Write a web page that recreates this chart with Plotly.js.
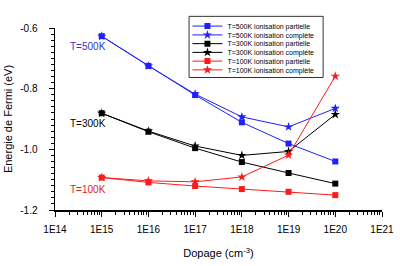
<!DOCTYPE html>
<html><head><meta charset="utf-8">
<script src="https://cdn.plot.ly/plotly-3.0.1.min.js"></script>
<style>html,body{margin:0;padding:0;background:#fff;}#chart{width:400px;height:266px;}</style>
</head><body><div id="chart"></div>
<script>
const dopage = [1e15, 1e16, 1e17, 1e18, 1e19, 1e20];
const t500Partielle = [-0.627, -0.725, -0.821, -0.911, -0.981, -1.040];
const t500Complete  = [-0.627, -0.725, -0.818, -0.893, -0.926, -0.865];
const t300Partielle = [-0.881, -0.942, -0.996, -1.042, -1.078, -1.113];
const t300Complete  = [-0.881, -0.940, -0.989, -1.020, -1.007, -0.885];
const t100Partielle = [-1.093, -1.109, -1.121, -1.131, -1.140, -1.151];
const t100Complete  = [-1.093, -1.104, -1.107, -1.091, -1.019, -0.759];
const seriesNames = [
  'T=500K ionisation partielle','T=500K ionisation complète',
  'T=300K ionisation partielle','T=300K ionisation complète',
  'T=100K ionisation partielle','T=100K ionisation complète'];
const xTickVals = [1e14,1e15,1e16,1e17,1e18,1e19,1e20,1e21];
const xTickText = ['1E14','1E15','1E16','1E17','1E18','1E19','1E20','1E21'];
const yTickVals = [-1.2,-1.0,-0.8,-0.6];
const yTickText = ['-1.2','-1.0','-0.8','-0.6'];

// minor tick positions (axis decoration only)
const xMinor = [];
for (let e = 14; e < 21; e++) for (let m = 2; m <= 9; m++) xMinor.push(m * Math.pow(10, e));
const yMinor = [];
for (let i = 0; i <= 30; i++) yMinor.push(-1.2 + i * 0.02);

const BLUE='#1f1fff', BLACK='#000000', RED='#ff1a1a';
const legendY = [1.0106, 0.962, 0.914, 0.866, 0.818, 0.770];
function tr(y,name,color,sym,size,k){
  return {x:dopage,y:y,name:name,type:'scatter',mode:'lines+markers',
    legend: k===0 ? 'legend' : 'legend'+(k+1),
    line:{color:color,width:1},marker:{color:color,symbol:sym,size:size}};
}
const data=[
  tr(t500Partielle,seriesNames[0],BLUE,'square',6,0),
  tr(t500Complete,seriesNames[1],BLUE,'star',7,1),
  tr(t300Partielle,seriesNames[2],BLACK,'square',6,2),
  tr(t300Complete,seriesNames[3],BLACK,'star',7,3),
  tr(t100Partielle,seriesNames[4],RED,'square',6,4),
  tr(t100Complete,seriesNames[5],RED,'star',7,5)
];
const F='Liberation Sans, Arial, sans-serif';
const layout={
  width:400,height:266,margin:{l:55,r:18,t:22,b:56},
  paper_bgcolor:'#fff',plot_bgcolor:'#fff',
  font:{family:F,size:10,color:'#000'},
  showlegend:true,
  xaxis:{type:'log',range:[14,21],tickmode:'array',tickvals:xTickVals,ticktext:xTickText,
    showgrid:false,zeroline:false,showline:true,linecolor:'#000',linewidth:1.5,
    ticks:'outside',ticklen:5,tickwidth:1,tickcolor:'#000',ticklabelstandoff:4,
    minor:{tickmode:'array',tickvals:xMinor,ticks:'outside',ticklen:3,tickwidth:1,tickcolor:'#000',showgrid:false},
    tickfont:{size:10},
    title:{text:'Dopage (cm<sup>-3</sup>)',font:{size:11},standoff:16}},
  yaxis:{range:[-1.2,-0.6],tickmode:'array',tickvals:yTickVals,ticktext:yTickText,
    showgrid:false,zeroline:false,showline:true,linecolor:'#000',linewidth:1.5,
    ticks:'outside',ticklen:5,tickwidth:1,tickcolor:'#000',ticklabelstandoff:9,
    minor:{tickmode:'array',tickvals:yMinor,ticks:'outside',ticklen:3,tickwidth:1,tickcolor:'#000',showgrid:false},
    tickfont:{size:10},
    title:{text:'Energie de Fermi (eV)',font:{size:11},standoff:5}},
  shapes:[
    {type:'rect',xref:'paper',yref:'paper',x0:0.41,x1:0.82,y0:0.728,y1:1.064,
     line:{color:'#333',width:1},fillcolor:'rgba(255,255,255,1)',layer:'below'}
  ],
  annotations:[
    {x:14.28,y:-0.662,xref:'x',yref:'y',text:'T=500K',showarrow:false,xanchor:'left',font:{size:10,color:'#3333cc'}},
    {x:14.28,y:-0.915,xref:'x',yref:'y',text:'T=300K',showarrow:false,xanchor:'left',font:{size:10,color:'#000'}},
    {x:14.28,y:-1.132,xref:'x',yref:'y',text:'T=100K',showarrow:false,xanchor:'left',font:{size:10,color:'#e02020'}}
  ]
};
for (let k=0;k<6;k++){
  const key = k===0 ? 'legend' : 'legend'+(k+1);
  layout[key] = {x:0.405,y:legendY[k],xanchor:'left',yanchor:'middle',
    bgcolor:'rgba(0,0,0,0)',borderwidth:0,font:{family:F,size:7,color:'#000'},
    itemsizing:'trace',itemwidth:30,tracegroupgap:0};
}
Plotly.newPlot('chart',data,layout,{displayModeBar:false,staticPlot:true});
</script></body></html>
